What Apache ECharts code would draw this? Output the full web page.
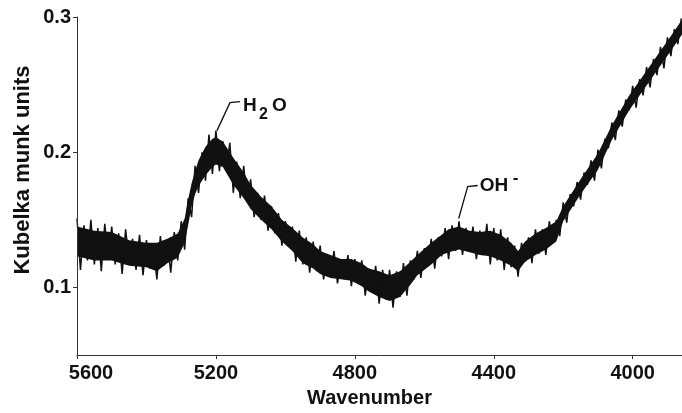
<!DOCTYPE html>
<html>
<head>
<meta charset="utf-8">
<title>Kubelka munk spectrum</title>
<script src="https://cdn.jsdelivr.net/npm/echarts@6/dist/echarts.min.js"></script>
<style>
html, body { margin: 0; padding: 0; background: #fff; }
#chart { width: 682px; height: 413px; }
</style>
</head>
<body>
<div id="chart"></div>
<script>
// tick labels
const xTicks = [5600, 5200, 4800, 4400, 4000];
const yTicks = [0.1, 0.2, 0.3];

// solid middle of the noisy band
const coreWn = [5600, 5550, 5500, 5450, 5400, 5370, 5340, 5310, 5290, 5280,
  5270, 5260, 5250, 5230, 5210, 5200, 5180, 5150, 5120, 5100,
  5070, 5040, 5010, 4980, 4950, 4920, 4900, 4870, 4840, 4810,
  4780, 4760, 4730, 4700, 4670, 4640, 4620, 4580, 4550, 4530,
  4500, 4470, 4440, 4410, 4380, 4350, 4330, 4310, 4280, 4250,
  4220, 4200, 4150, 4100, 4060, 4010, 3950, 3890, 3858];
const coreTop = [0.145, 0.142, 0.141, 0.135, 0.133, 0.133, 0.136, 0.140, 0.151, 0.165,
  0.177, 0.186, 0.194, 0.204, 0.210, 0.211, 0.208, 0.196, 0.185, 0.176,
  0.167, 0.160, 0.150, 0.144, 0.137, 0.132, 0.127, 0.124, 0.121, 0.121,
  0.118, 0.114, 0.112, 0.109, 0.112, 0.119, 0.124, 0.133, 0.139, 0.143,
  0.145, 0.142, 0.141, 0.142, 0.139, 0.133, 0.127, 0.134, 0.140, 0.144,
  0.149, 0.160, 0.180, 0.199, 0.220, 0.242, 0.264, 0.286, 0.298];
const coreBottom = [0.123, 0.120, 0.120, 0.116, 0.115, 0.112, 0.118, 0.122, 0.133, 0.146,
  0.160, 0.169, 0.175, 0.183, 0.189, 0.191, 0.189, 0.176, 0.166, 0.158,
  0.150, 0.143, 0.134, 0.127, 0.118, 0.114, 0.110, 0.107, 0.106, 0.105,
  0.101, 0.097, 0.093, 0.090, 0.093, 0.102, 0.109, 0.117, 0.124, 0.126,
  0.128, 0.126, 0.124, 0.123, 0.120, 0.116, 0.112, 0.119, 0.124, 0.128,
  0.134, 0.149, 0.169, 0.187, 0.209, 0.231, 0.253, 0.275, 0.287];

// spike trace, one reading every 10 cm-1 starting at 5600
const noiseStart = 5600;
const noiseStep = 10;
const noise = [
  0.151, 0.113, 0.146, 0.120, 0.150, 0.117, 0.144, 0.112, 0.147, 0.121,
  0.145, 0.117, 0.140, 0.110, 0.143, 0.119, 0.136, 0.113, 0.139, 0.109,
  0.135, 0.114, 0.131, 0.106, 0.138, 0.116, 0.134, 0.111, 0.141, 0.120,
  0.149, 0.128, 0.166, 0.152, 0.190, 0.170, 0.200, 0.179, 0.213, 0.184,
  0.216, 0.186, 0.208, 0.187, 0.207, 0.170, 0.193, 0.166, 0.190, 0.163,
  0.180, 0.152, 0.170, 0.150, 0.168, 0.142, 0.160, 0.140, 0.155, 0.131,
  0.149, 0.131, 0.145, 0.119, 0.142, 0.117, 0.137, 0.111, 0.134, 0.112,
  0.131, 0.106, 0.124, 0.108, 0.127, 0.103, 0.119, 0.106, 0.124, 0.101,
  0.121, 0.104, 0.120, 0.094, 0.114, 0.097, 0.116, 0.088, 0.113, 0.091,
  0.113, 0.085, 0.112, 0.093, 0.118, 0.094, 0.120, 0.106, 0.127, 0.107,
  0.129, 0.116, 0.136, 0.114, 0.137, 0.123, 0.144, 0.121, 0.146, 0.127,
  0.149, 0.124, 0.144, 0.127, 0.145, 0.121, 0.142, 0.124, 0.147, 0.117,
  0.144, 0.120, 0.143, 0.113, 0.137, 0.115, 0.131, 0.108, 0.133, 0.119,
  0.137, 0.118, 0.143, 0.125, 0.143, 0.124, 0.149, 0.133, 0.150, 0.138,
  0.163, 0.148, 0.169, 0.160, 0.178, 0.165, 0.185, 0.176, 0.194, 0.179,
  0.202, 0.188, 0.210, 0.203, 0.222, 0.209, 0.231, 0.219, 0.239, 0.231,
  0.249, 0.233, 0.254, 0.242, 0.263, 0.248, 0.269, 0.257, 0.278, 0.262,
  0.285, 0.271, 0.291, 0.280, 0.299];

// where the two band labels point (wavenumber, value)
const h2oAt = [5197, 0.216];
const ohAt = [4501, 0.151];

const font = '"Liberation Sans", Arial, Helvetica, sans-serif';
const ink = '#111';

const chart = echarts.init(document.getElementById('chart'));

let noiseData = noise.map((v, i) => [noiseStart - i * noiseStep, v]);
let topData = coreWn.map((w, i) => [w, coreTop[i]]);
let bottomData = coreWn.map((w, i) => [w, coreBottom[i]]);

chart.setOption({
  animation: false,
  grid: { left: 77, right: 0, top: 17, bottom: 51 },
  xAxis: {
    type: 'value',
    inverse: true,
    min: 3858,
    max: 5600,
    z: 10,
    axisLine: { show: true, lineStyle: { color: '#333', width: 1 } },
    axisTick: { show: true, customValues: xTicks, length: 4, lineStyle: { color: '#333' } },
    axisLabel: {
      customValues: xTicks,
      margin: 8,
      color: ink,
      fontFamily: font,
      fontWeight: 'bold',
      fontSize: 20,
      formatter: v => v === 5600 ? '{first|5600}' : String(v),
      rich: {
        first: { padding: [0, 0, 0, 28], fontFamily: font, fontWeight: 'bold', fontSize: 20, color: ink }
      }
    },
    splitLine: { show: false },
    name: 'Wavenumber',
    nameLocation: 'middle',
    nameGap: 30,
    nameTextStyle: { color: ink, fontFamily: font, fontWeight: 'bold', fontSize: 20, padding: [0, 20, 0, 0] }
  },
  yAxis: {
    type: 'value',
    min: 0.05,
    max: 0.3,
    z: 10,
    axisLine: { show: true, lineStyle: { color: '#333', width: 1 } },
    axisTick: { show: true, customValues: yTicks, length: 4, lineStyle: { color: '#333' } },
    axisLabel: {
      customValues: yTicks,
      margin: 6,
      color: ink,
      fontFamily: font,
      fontWeight: 'bold',
      fontSize: 20,
      formatter: v => v.toFixed(1)
    },
    splitLine: { show: false }
  },
  series: [
    {
      // dark core, filled down to the axis
      type: 'line',
      data: topData,
      symbol: 'none',
      z: 2,
      lineStyle: { width: 0 },
      areaStyle: { color: ink, opacity: 1 }
    },
    {
      // white under the core cuts it into a band
      type: 'line',
      data: bottomData,
      symbol: 'none',
      z: 3,
      lineStyle: { width: 0 },
      areaStyle: { color: '#fff', opacity: 1 }
    },
    {
      type: 'line',
      data: noiseData,
      symbol: 'none',
      z: 4,
      lineStyle: { width: 1.5, color: ink }
    }
  ]
});

function txt(x, y, text, size) {
  return {
    type: 'text',
    x: x,
    y: y,
    z: 20,
    style: {
      text: text,
      fill: ink,
      fontSize: size,
      fontWeight: 'bold',
      fontFamily: font,
      align: 'left',
      verticalAlign: 'middle'
    }
  };
}

function leader(p, pts) {
  return {
    type: 'polyline',
    z: 20,
    shape: { points: pts.map(d => [p[0] + d[0], p[1] + d[1]]) },
    style: { stroke: ink, lineWidth: 1.3, fill: null }
  };
}

let h = chart.convertToPixel({ gridIndex: 0 }, h2oAt);
let o = chart.convertToPixel({ gridIndex: 0 }, ohAt);

chart.setOption({
  graphic: [
    {
      type: 'text',
      x: 23,
      y: 170,
      rotation: Math.PI / 2,
      style: {
        text: 'Kubelka munk units',
        fill: ink,
        fontSize: 22,
        fontWeight: 'bold',
        fontFamily: font,
        align: 'center',
        verticalAlign: 'middle'
      }
    },
    leader(h, [[0, 0], [13, -28], [23, -29]]),
    txt(h[0] + 26, h[1] - 25, 'H', 19),
    txt(h[0] + 42, h[1] - 16, '2', 16),
    txt(h[0] + 55, h[1] - 25, 'O', 19),
    leader(o, [[0, 0], [9, -32], [19, -33]]),
    txt(o[0] + 21, o[1] - 33, 'OH', 19),
    txt(o[0] + 54, o[1] - 40, '-', 17)
  ]
});
</script>
</body>
</html>
